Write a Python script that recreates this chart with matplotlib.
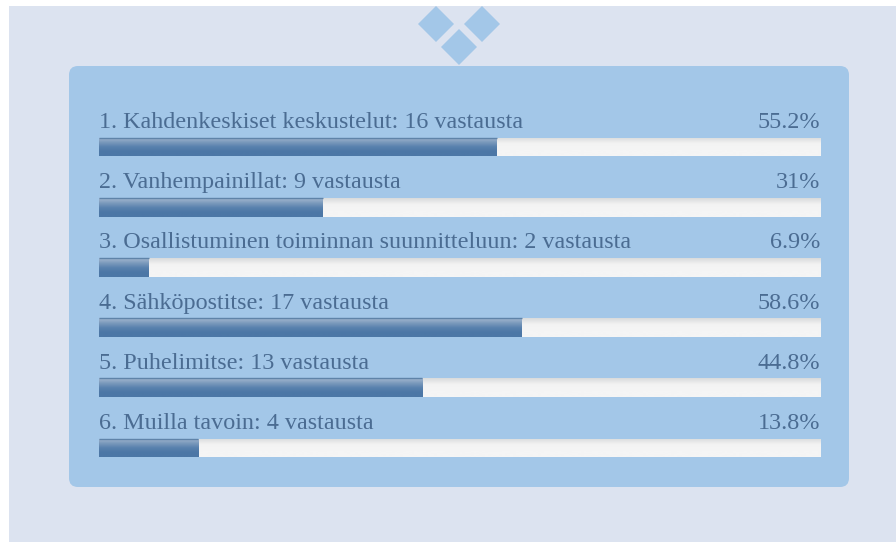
#Poll result bars on a lavender page with rounded panel
import numpy as np
import matplotlib
matplotlib.use("Agg")
import matplotlib.pyplot as plt
from matplotlib.patches import FancyBboxPatch, Polygon, Rectangle
from matplotlib.colors import LinearSegmentedColormap

labels = ["1. Kahdenkeskiset keskustelut: 16 vastausta",
          "2. Vanhempainillat: 9 vastausta",
          "3. Osallistuminen toiminnan suunnitteluun: 2 vastausta",
          "4. Sähköpostitse: 17 vastausta",
          "5. Puhelimitse: 13 vastausta",
          "6. Muilla tavoin: 4 vastausta"]
percents = [55.2, 31, 6.9, 58.6, 44.8, 13.8]
percent_labels = ["55.2%", "31%", "6.9%", "58.6%", "44.8%", "13.8%"]

W, H = 896, 542
TEXT = "#4b6c92"
fig = plt.figure(figsize=(W/100, H/100), dpi=100, facecolor="white")

#page decoration in pixel coords
bg = fig.add_axes([0, 0, 1, 1])
bg.set_xlim(0, W)
bg.set_ylim(H, 0)
bg.axis("off")
bg.add_patch(Rectangle((9, 6), W-9, H-6, fc="#dce3f0", ec="none"))
bg.add_patch(FancyBboxPatch((77, 74), 764, 405, boxstyle="round,pad=8,rounding_size=9",
                            fc="#a3c7e8", ec="none"))
for cx, cy in [(436, 24), (482, 24), (459, 47)]:
    bg.add_patch(Polygon([(cx-18, cy), (cx, cy-18), (cx+18, cy), (cx, cy+18)],
                         fc="#a3c7e8", ec="none"))

#bars axes: 0-100 across the track, one unit per row
x0, x1 = 99, 820
row = 60.2
first_mid = 147
top = first_mid - row/2
bottom = top + row*len(labels)
ax = fig.add_axes([x0/W, 1-bottom/H, (x1-x0)/W, (bottom-top)/H])
ax.set_xlim(0, 100)
ax.set_ylim(len(labels)-0.5, -0.5)
ax.axis("off")
ax.patch.set_alpha(0)

bar_h = 19/row
fill_cm = LinearSegmentedColormap.from_list("fill", ["#a3b8d0", "#7d9bbd", "#5a82ae", "#4c77a6", "#4c77a6"])
track_cm = LinearSegmentedColormap.from_list("track", ["#d9dbdc", "#f3f3f3", "#f5f5f5", "#f5f5f5"])
grad = np.linspace(0, 1, 64).reshape(-1, 1)

tracks = ax.barh(range(len(labels)), [100]*len(labels), height=bar_h, color="none")
bars = ax.barh(range(len(labels)), percents, height=bar_h, color="none")
for i, (tr, b) in enumerate(zip(tracks, bars)):
    im = ax.imshow(grad, cmap=track_cm, aspect="auto", zorder=1,
                   extent=(0, 100, i+bar_h/2, i-bar_h/2), origin="upper")
    im.set_clip_path(tr)
    im = ax.imshow(grad, cmap=fill_cm, aspect="auto", zorder=2,
                   extent=(0, percents[i], i+bar_h/2, i-bar_h/2), origin="upper")
    im.set_clip_path(b)
    ax.plot([0, percents[i]], [i-bar_h/2, i-bar_h/2], color="#5f83a8", lw=1, zorder=3,
            solid_capstyle="butt")
    ax.text(0, i-bar_h/2-9.5/row, labels[i], ha="left", va="baseline", color=TEXT,
            fontsize=17.4, family="Liberation Serif")
    ax.text(100, i-bar_h/2-9.5/row, percent_labels[i], ha="right", va="baseline", color=TEXT,
            fontsize=17.4, family="Liberation Serif")
ax.set_xlim(0, 100)
ax.set_ylim(len(labels)-0.5, -0.5)

fig.savefig("out.png", dpi=100)
